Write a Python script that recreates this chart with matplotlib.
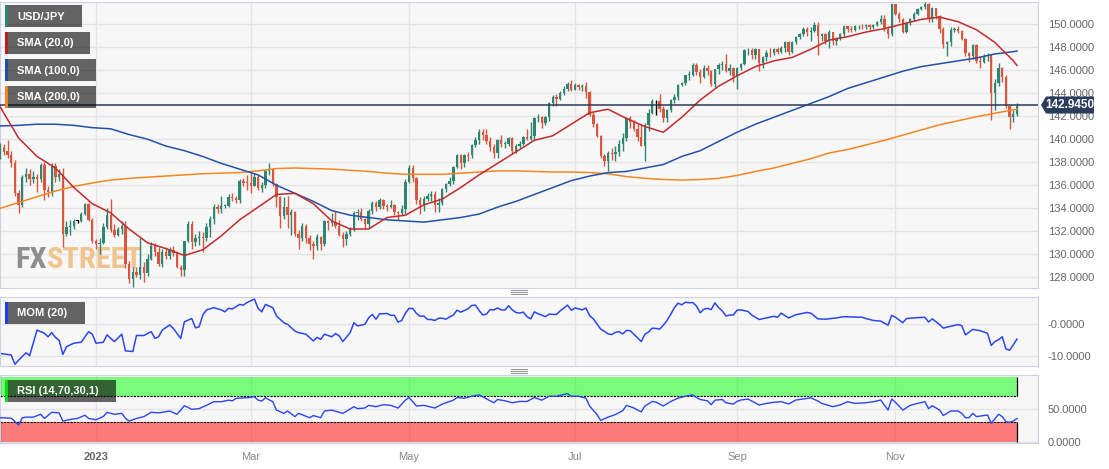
import numpy as np
import pandas as pd
import matplotlib
matplotlib.use("Agg")
import matplotlib.pyplot as plt
from matplotlib.patches import Rectangle, Polygon

plt.rcParams['font.family'] = ['Liberation Sans', 'DejaVu Sans']

# daily USD/JPY candles, 25 Nov 2022 .. 18 Dec 2023 (weekdays)
dates = pd.bdate_range('2022-11-25', '2023-12-18')

opens = [
    138.5, 139.3, 139.0, 138.6, 137.9, 135.3, 134.3, 136.7, 137.0, 136.5,
    136.7, 136.5, 137.8, 135.6, 135.4, 137.7, 136.7, 137.0, 131.8, 132.4,
    132.5, 132.9, 132.9, 133.5, 134.4, 133.0, 131.2, 130.9, 131.0, 132.4,
    133.4, 132.1, 131.7, 132.2, 132.5, 129.2, 127.9, 128.5, 128.2, 128.9,
    128.4, 129.6, 130.7, 130.2, 129.2, 130.2, 129.9, 130.4, 130.1, 128.9,
    128.6, 131.2, 132.6, 131.1, 131.4, 131.5, 131.4, 132.4, 133.1, 134.1,
    133.9, 134.2, 134.2, 135.0, 134.9, 134.7, 136.4, 136.3, 136.2, 135.9,
    136.7, 135.8, 136.0, 137.2, 137.4, 136.1, 135.0, 133.3, 134.1, 133.4,
    133.7, 131.8, 131.4, 132.5, 131.4, 130.9, 130.7, 131.5, 130.9, 132.9,
    132.7, 132.8, 132.5, 131.7, 131.3, 131.8, 132.2, 133.6, 133.7, 133.1,
    132.6, 133.8, 134.5, 134.1, 134.7, 134.2, 134.1, 134.3, 133.7, 133.6,
    133.9, 136.3, 137.5, 136.6, 134.7, 134.3, 134.8, 135.1, 135.2, 134.3,
    134.5, 135.7, 136.1, 136.4, 137.6, 138.6, 137.9, 138.6, 138.6, 139.5,
    139.9, 140.6, 140.4, 139.8, 139.3, 138.8, 139.9, 139.6, 139.6, 140.1,
    139.0, 139.4, 139.6, 140.2, 140.0, 140.3, 141.8, 141.9, 141.4, 141.9,
    143.1, 143.7, 143.5, 144.0, 144.4, 144.8, 144.3, 144.7, 144.5, 144.6,
    144.1, 142.1, 141.3, 140.3, 138.5, 138.1, 138.8, 138.7, 138.9, 139.6,
    140.1, 141.8, 141.5, 140.9, 140.2, 139.4, 141.2, 142.3, 143.3, 143.3,
    142.6, 141.8, 142.5, 143.4, 143.7, 144.7, 144.9, 145.6, 145.6, 146.4,
    145.8, 145.4, 146.2, 145.9, 144.8, 146.1, 146.4, 146.5, 145.9, 146.2,
    145.5, 146.2, 146.5, 147.7, 147.7, 147.3, 147.8, 146.6, 147.1, 147.5,
    147.45, 147.8, 147.6, 147.9, 148.4, 147.6, 148.4, 148.9, 149.1, 149.6,
    149.3, 149.4, 149.9, 149.0, 149.1, 148.5, 149.3, 148.5, 148.7, 149.1,
    149.8, 149.6, 149.5, 149.8, 149.85, 149.8, 149.9, 149.7, 149.9, 150.2,
    150.4, 149.6, 149.1, 151.7, 150.9, 150.4, 149.3, 150.1, 150.4, 150.9,
    151.3, 151.5, 151.7, 150.4, 151.4, 150.7, 149.6, 148.3, 148.4, 149.5,
    149.6, 149.4, 148.7, 147.5, 147.2, 148.2, 146.8, 146.7, 147.2, 147.3,
    144.0, 144.9, 146.2, 145.4, 142.9, 141.9, 142.2,
]
highs = [
    139.7, 139.6, 139.9, 139.0, 138.2, 135.6, 136.9, 137.5, 137.4, 137.2,
    137.0, 137.9, 138.0, 135.9, 137.9, 137.9, 137.4, 137.5, 132.9, 133.0,
    133.1, 133.0, 133.7, 134.5, 134.5, 133.2, 131.3, 131.4, 132.7, 134.0,
    134.8, 132.6, 132.4, 132.9, 132.9, 129.4, 128.9, 128.9, 131.4, 129.3,
    130.0, 131.1, 131.0, 130.6, 130.5, 130.6, 130.6, 130.7, 130.3, 129.1,
    131.2, 132.9, 132.9, 131.8, 132.0, 131.9, 132.7, 133.3, 134.4, 134.4,
    135.1, 134.4, 135.2, 135.3, 135.1, 136.5, 136.6, 136.9, 137.1, 137.1,
    136.9, 136.3, 137.3, 137.9, 137.5, 136.2, 135.1, 135.0, 135.1, 133.9,
    133.8, 132.1, 132.7, 132.6, 131.7, 131.2, 131.8, 131.6, 133.0, 133.0,
    133.6, 133.8, 133.0, 131.9, 132.0, 132.4, 133.8, 133.9, 134.0, 133.2,
    133.9, 134.6, 134.6, 134.9, 134.8, 134.4, 134.7, 134.4, 133.8, 134.3,
    136.5, 137.8, 137.8, 136.7, 135.0, 135.1, 135.3, 135.5, 135.5, 134.9,
    135.8, 136.2, 136.7, 137.7, 138.7, 138.7, 138.7, 138.9, 139.6, 140.2,
    140.9, 140.9, 140.9, 140.2, 139.6, 140.0, 140.4, 139.8, 140.2, 140.2,
    139.6, 139.8, 140.3, 140.9, 141.5, 141.9, 142.2, 142.0, 142.0, 143.2,
    143.8, 143.9, 144.2, 144.6, 145.0, 145.1, 144.9, 144.8, 144.8, 145.0,
    144.2, 142.4, 141.4, 140.4, 138.7, 139.0, 139.2, 139.4, 139.9, 140.5,
    141.9, 142.0, 141.7, 141.3, 141.3, 141.4, 142.6, 143.5, 143.4, 143.9,
    142.9, 142.6, 143.5, 143.9, 144.8, 145.0, 145.6, 145.9, 146.6, 146.6,
    146.1, 146.4, 146.4, 146.0, 146.1, 146.6, 146.8, 147.4, 146.5, 146.3,
    146.3, 146.6, 147.8, 147.9, 147.9, 147.9, 147.8, 147.2, 147.7, 147.9,
    147.9, 148.0, 148.1, 148.5, 148.5, 148.5, 149.0, 149.2, 149.7, 149.7,
    149.7, 150.2, 150.2, 149.2, 149.2, 149.5, 149.3, 148.9, 149.2, 149.8,
    149.8, 149.8, 149.9, 149.9, 150.0, 150.0, 150.0, 150.0, 150.3, 150.8,
    150.8, 149.8, 151.7, 151.7, 151.0, 150.5, 150.2, 150.5, 151.0, 151.4,
    151.6, 151.9, 151.8, 151.5, 151.4, 150.8, 149.7, 148.5, 149.7, 149.7,
    149.8, 149.5, 148.8, 147.6, 148.3, 148.3, 147.2, 147.4, 147.5, 147.4,
    145.2, 146.6, 146.3, 145.6, 143.0, 142.5, 143.1,
]
lows = [
    138.3, 138.6, 138.4, 137.6, 135.1, 133.6, 134.1, 136.3, 136.0, 136.2,
    135.4, 136.3, 134.7, 135.0, 135.1, 136.3, 136.4, 130.6, 131.6, 131.7,
    132.2, 132.7, 132.8, 133.4, 132.9, 131.0, 130.5, 130.0, 130.9, 132.2,
    131.9, 131.5, 131.6, 131.8, 128.8, 127.5, 127.2, 128.0, 127.9, 127.6,
    128.1, 129.5, 129.9, 129.0, 128.9, 129.6, 129.6, 129.9, 128.8, 128.1,
    128.1, 131.1, 130.5, 130.7, 130.8, 130.2, 131.2, 131.5, 132.6, 133.6,
    133.6, 134.0, 134.1, 134.6, 134.5, 134.5, 135.9, 135.6, 135.3, 135.9,
    135.6, 135.4, 135.8, 136.9, 135.9, 134.1, 132.3, 133.1, 132.3, 131.7,
    131.6, 130.5, 131.2, 131.0, 130.4, 129.6, 130.4, 130.4, 130.7, 132.1,
    132.5, 132.3, 131.6, 130.6, 130.8, 131.6, 132.0, 133.0, 132.9, 132.3,
    132.3, 133.5, 133.8, 133.9, 133.9, 133.8, 134.0, 133.4, 133.0, 133.4,
    133.5, 136.2, 136.3, 134.4, 133.5, 133.8, 134.6, 134.6, 133.7, 133.7,
    134.3, 135.4, 135.9, 136.1, 137.5, 137.4, 137.6, 138.1, 138.4, 139.3,
    139.6, 139.9, 139.6, 139.0, 138.4, 138.4, 139.3, 139.2, 139.4, 138.8,
    138.8, 139.2, 139.5, 139.9, 139.9, 139.9, 141.5, 141.0, 141.2, 141.6,
    142.9, 142.9, 143.4, 143.8, 144.2, 144.2, 144.3, 144.3, 144.2, 143.6,
    142.0, 141.1, 140.2, 138.4, 137.7, 137.2, 138.2, 138.1, 138.5, 139.0,
    139.8, 141.0, 140.7, 139.8, 139.4, 138.1, 140.7, 142.2, 142.1, 142.4,
    141.5, 141.5, 142.4, 143.1, 143.4, 144.6, 144.7, 145.1, 145.5, 145.6,
    144.9, 145.3, 145.6, 144.6, 144.5, 145.7, 146.0, 145.8, 145.6, 145.0,
    144.4, 146.0, 146.4, 147.3, 147.0, 147.0, 145.9, 146.2, 146.8, 147.1,
    147.3, 147.4, 147.5, 147.6, 147.3, 147.5, 148.3, 148.7, 149.0, 149.0,
    148.5, 149.3, 147.3, 148.5, 148.3, 147.9, 148.2, 148.2, 148.6, 149.0,
    149.3, 149.3, 149.4, 149.6, 149.6, 149.6, 149.5, 149.6, 149.8, 150.0,
    149.4, 148.8, 149.0, 150.8, 150.2, 149.2, 149.2, 149.9, 150.3, 150.8,
    151.2, 151.3, 150.2, 150.2, 150.4, 149.2, 147.9, 147.2, 148.1, 149.3,
    149.2, 148.6, 147.2, 146.7, 147.0, 146.6, 146.2, 146.6, 146.8, 141.7,
    142.5, 144.6, 145.0, 142.7, 140.9, 141.5, 142.0,
]
closes = [
    139.5, 138.9, 138.6, 137.9, 135.3, 134.3, 136.7, 137.0, 136.5, 136.7,
    136.5, 137.8, 135.6, 135.4, 137.7, 136.7, 137.0, 131.8, 132.4, 132.5,
    132.9, 132.9, 133.5, 134.4, 133.0, 131.2, 130.9, 131.0, 132.4, 133.4,
    132.1, 131.7, 132.2, 132.5, 129.2, 127.9, 128.5, 128.2, 128.9, 128.4,
    129.6, 130.7, 130.2, 129.2, 130.2, 129.9, 130.4, 130.1, 128.9, 128.6,
    131.2, 132.6, 131.1, 131.4, 131.5, 131.4, 132.4, 133.1, 134.1, 133.9,
    134.2, 134.25, 135.0, 134.9, 134.7, 136.4, 136.2, 136.2, 135.9, 136.7,
    135.8, 136.0, 137.2, 137.4, 136.1, 135.0, 133.3, 134.1, 133.4, 133.7,
    131.8, 131.4, 132.5, 131.4, 130.9, 130.7, 131.5, 130.9, 132.9, 132.7,
    132.8, 132.5, 131.7, 131.3, 131.8, 132.2, 133.6, 133.7, 133.1, 132.6,
    133.8, 134.5, 134.1, 134.7, 134.2, 134.1, 134.3, 133.7, 133.6, 133.9,
    136.3, 137.5, 136.6, 134.7, 134.3, 134.8, 135.1, 135.2, 134.3, 134.5,
    135.7, 136.1, 136.4, 137.6, 138.6, 137.9, 138.6, 138.55, 139.5, 139.9,
    140.6, 140.4, 139.8, 139.3, 138.8, 139.9, 139.6, 139.65, 140.1, 139.0,
    139.4, 139.6, 140.2, 140.0, 140.3, 141.8, 141.9, 141.4, 141.9, 143.1,
    143.7, 143.5, 144.0, 144.4, 144.8, 144.3, 144.7, 144.5, 144.6, 144.1,
    142.1, 141.3, 140.3, 138.5, 138.1, 138.8, 138.7, 138.9, 139.6, 140.1,
    141.8, 141.5, 140.9, 140.2, 139.4, 141.2, 142.3, 143.3, 143.3, 142.6,
    141.8, 142.5, 143.4, 143.7, 144.7, 144.9, 145.6, 145.65, 146.4, 145.8,
    145.4, 146.2, 145.9, 144.8, 146.1, 146.4, 146.5, 145.9, 146.2, 145.5,
    146.2, 146.5, 147.7, 147.75, 147.3, 147.8, 146.6, 147.1, 147.5, 147.45,
    147.8, 147.6, 147.9, 148.4, 147.6, 148.4, 148.9, 149.1, 149.6, 149.3,
    149.4, 149.9, 149.0, 149.1, 148.5, 149.3, 148.5, 148.7, 149.1, 149.8,
    149.6, 149.5, 149.8, 149.85, 149.8, 149.9, 149.7, 149.9, 150.2, 150.4,
    149.6, 149.1, 151.7, 150.9, 150.4, 149.3, 150.1, 150.4, 150.9, 151.3,
    151.5, 151.7, 150.4, 151.4, 150.7, 149.6, 148.3, 148.4, 149.5, 149.6,
    149.4, 148.7, 147.5, 147.2, 148.2, 146.8, 146.7, 147.2, 147.3, 144.0,
    144.9, 146.2, 145.4, 142.9, 141.9, 142.2, 142.9,
]

# moving averages read every 5th session (plus the last one)
sma_idx = list(range(0, 276, 5)) + [276]
sma20 = [142.8, 140.1, 138.5, 137.5, 135.8, 134.4, 133.6, 132.2, 131.0, 130.5,
         129.9, 130.4, 131.6, 133.0, 134.1, 135.2, 135.3, 134.4, 132.9, 132.2,
         132.2, 133.2, 133.4, 134.3, 134.8, 135.8, 136.9, 137.9, 138.9, 139.9,
         140.3, 141.3, 142.3, 142.6, 141.8, 141.1, 140.6, 141.9, 143.4, 144.6,
         145.5, 146.3, 146.8, 147.1, 147.8, 148.6, 148.9, 149.3, 149.6, 150.0,
         150.4, 150.6, 150.2, 149.5, 148.4, 146.8, 146.4]
sma100 = [141.15, 141.2, 141.3, 141.3, 141.2, 141.0, 140.9, 140.4, 140.0, 139.4,
          139.0, 138.5, 137.9, 137.4, 136.9, 136.0, 135.3, 134.6, 133.8, 133.4,
          133.2, 133.0, 132.9, 132.8, 133.0, 133.2, 133.5, 134.1, 134.6, 135.2,
          135.8, 136.4, 136.8, 137.1, 137.2, 137.5, 137.8, 138.5, 139.0, 139.8,
          140.6, 141.3, 141.9, 142.5, 143.1, 143.7, 144.4, 144.9, 145.4, 145.9,
          146.3, 146.55, 146.8, 147.05, 147.4, 147.6, 147.65]
sma200 = [134.0, 134.5, 135.0, 135.5, 135.9, 136.2, 136.45, 136.6, 136.7, 136.8,
          136.9, 137.0, 137.05, 137.1, 137.25, 137.45, 137.5, 137.45, 137.4, 137.3,
          137.2, 137.05, 136.95, 136.95, 136.95, 137.05, 137.15, 137.25, 137.25, 137.2,
          137.15, 137.15, 137.1, 137.0, 136.75, 136.6, 136.5, 136.45, 136.5, 136.6,
          136.85, 137.2, 137.5, 137.9, 138.3, 138.8, 139.1, 139.5, 139.9, 140.35,
          140.8, 141.25, 141.6, 141.95, 142.25, 142.55, 142.6]

mom_idx = [0, 3, 4, 5, 7, 8, 10, 12, 13, 14, 15, 16, 17, 18, 20, 22, 24, 25, 26, 28,
           29, 30, 31, 33, 34, 36, 37, 39, 41, 42, 43, 44, 46, 47, 49, 50, 52, 53, 54, 55,
           56, 58, 60, 61, 62, 63, 65, 66, 67, 69, 70, 71, 72, 74, 75, 77, 78, 80, 81, 83,
           85, 86, 87, 88, 90, 91, 92, 93, 95, 96, 97, 99,
           100, 101, 102, 103, 104, 105, 106, 107, 108, 109, 110, 111, 112, 113, 114, 115,
           116, 117, 118, 119, 120, 121, 122, 123, 124, 125, 126, 127, 128, 129, 130, 131,
           132, 133, 134, 135, 136, 137, 138, 139, 140, 141, 142, 143, 144, 145, 146, 147,
           148, 149, 150, 151, 152, 153, 154, 155, 156, 157, 158, 159, 160, 161, 162, 163,
           164, 165, 166, 167, 168, 169, 170, 171, 172, 173, 174, 175, 176, 177, 178, 179,
           180, 181, 182, 183, 184, 185, 186, 187, 188, 189, 190, 191, 192, 193, 194, 195,
           196, 197, 198, 199, 200,
           201, 203, 204, 206, 208, 210, 211, 212, 214, 216, 219, 220, 222, 224, 227, 229,
           231, 234, 235, 237, 239, 241, 242, 243, 245, 246, 248, 251, 252, 253, 255, 256,
           258, 260, 261, 262, 264, 266, 268, 269, 270, 271, 272, 273, 274, 275, 276]
mom_vals = [-9.1, -9.6, -12.5, -11.2, -8.9, -9.8, -1.8, -2.8, -3.9, -2.6, -4.1, -5.0, -9.4, -7.0, -5.9, -5.6, -2.3, -3.1, -5.9, -5.6,
            -3.3, -4.4, -5.4, -3.1, -8.3, -8.5, -3.5, -3.5, -2.3, -4.4, -3.9, -1.8, -0.2, -1.3, -4.4, 0.8, 1.8, -1.1, -0.8, 2.9,
            4.5, 5.2, 4.5, 3.9, 5.0, 4.8, 6.2, 6.0, 6.8, 7.9, 5.0, 3.9, 6.2, 5.2, 2.6, 0.5, 0.0, -2.1, -2.6, -3.1,
            -5.2, -4.1, -4.7, -3.1, -3.9, -2.9, -3.6, -5.4, -2.6, 0.5, -0.5, 0.0,
            2.0, 3.1, 1.6, 3.3, 3.3, 3.4, 2.8, 2.8, 0.7, 1.2, 3.5, 5.0, 4.9, 3.4, 2.5, 2.6,
            1.5, 1.5, 1.2, 1.9, 1.9, 1.6, 2.3, 2.9, 4.4, 3.8, 4.3, 4.85, 5.9, 6.0, 4.3, 2.9,
            3.2, 4.6, 4.5, 5.1, 4.5, 4.45, 5.8, 4.5, 3.7, 3.5, 3.8, 2.4, 1.7, 3.9, 3.3, 2.85,
            2.4, 3.2, 3.1, 3.1, 4.2, 5.1, 6.0, 4.4, 5.1, 4.85, 4.5, 5.1, 2.7, 1.7, 0.1, -1.5,
            -2.2, -3.0, -3.2, -2.5, -2.3, -3.0, -1.9, -2.0, -3.1, -4.2, -5.4, -3.1, -2.4, -1.2, -1.3, -1.5,
            -0.3, 1.2, 3.1, 5.2, 6.6, 6.1, 6.9, 6.75, 6.8, 5.7, 3.6, 4.7, 5.0, 4.6, 6.7, 5.2,
            4.2, 2.6, 2.9, 2.9, 4.4,
            4.5, 4.0, 2.9, 1.5, 2.0, 2.5, 2.2, 3.5, 2.0, 3.0, 3.7, 3.5, 1.7, 1.6, 2.0, 2.4,
            2.3, 2.2, 1.8, 1.2, 1.0, -0.3, 2.8, 2.2, 0.5, 1.8, 2.0, 2.2, 0.7, 1.7, -0.1, -1.2,
            -0.6, -0.1, -0.4, -3.3, -1.6, -2.0, -2.8, -6.6, -5.4, -4.8, -3.9, -7.7, -8.1, -6.4, -4.6]

rsi_idx = [0, 3, 5, 6, 7, 9, 11, 12, 14, 16, 17, 19, 21, 23, 24, 26, 28, 29, 31, 33,
           34, 35, 37, 39, 41, 43, 44, 46, 48, 50, 52, 54, 56, 58, 60, 62, 63, 64, 66, 67,
           69, 70, 71, 72, 74, 75, 77, 78, 80, 81, 84, 85, 87, 88, 90, 93, 94, 96, 97, 99,
           100, 102, 104, 106, 108, 110, 111, 113, 115, 118, 120, 123, 124, 126, 128, 130, 132, 134, 135, 137,
           139, 141, 143, 145, 147, 149, 151, 154, 155, 157, 159, 160, 162, 163, 165, 167, 169, 170, 172, 174,
           175, 177, 178, 180, 182, 184, 186, 188, 189, 190, 192, 193, 194, 196, 197, 199, 200,
           201, 203, 206, 208, 210, 212, 214, 216, 219, 220, 222, 223, 226, 228, 230, 232, 235, 237, 239, 241,
           242, 243, 245, 247, 249, 251, 252, 253, 255, 256, 258, 260, 261, 262, 263, 264, 265, 268, 269, 271,
           272, 273, 274, 275, 276]
rsi_vals = [37.2, 36.4, 26, 37, 38, 38, 42.4, 36, 45.4, 44.6, 32, 34.5, 36, 41, 36, 34, 39, 45.4, 42.4, 43.8,
            36.2, 32, 36, 38.8, 45.4, 44.6, 45.4, 47.4, 42.4, 55.5, 50, 51, 56.1, 61.6, 61.6, 64, 63, 66.6, 67.6, 67.6,
            69.2, 64, 62.6, 67.6, 61.6, 48.8, 43.8, 47.4, 38.8, 43.8, 37.2, 40.4, 37.2, 47.4, 48.8, 43.8, 47, 54, 51, 52,
            56, 54, 57, 56, 52, 64, 68, 55, 56, 52, 58, 64, 68, 67, 70, 72, 66, 60, 65, 63,
            60, 62, 62, 68, 64, 70, 70, 74, 70, 70, 67, 55, 42, 33, 38, 42, 48, 56, 52, 46,
            55, 62, 61, 55, 62, 67, 70, 72, 68, 65, 63, 57, 64, 65, 60, 58, 62,
            64.2, 65.7, 56.6, 59, 60.7, 61.6, 58.2, 64.2, 66.6, 67.6, 62.6, 59, 54, 56.6, 61.6, 59, 60, 61.6, 64.2, 48.8,
            65.7, 60.7, 48.8, 56, 59, 61.6, 51, 55.5, 48.8, 40.5, 47.4, 47.4, 43.8, 37.2, 37.2, 43.8, 38.8, 41.3, 28.6, 42.4,
            38.8, 31, 30, 32, 36]
rsi_upper, rsi_lower = 70, 30

last_price = 142.945
price_ticks = list(range(128, 151, 2))
month_starts = ['2023-01-02', '2023-03-01', '2023-05-01', '2023-07-03', '2023-09-01', '2023-11-01']
month_labels = ['2023', 'Mar', 'May', 'Jul', 'Sep', 'Nov']

UP = '#2e8570'
DOWN = '#d9553f'
BG = '#f7f7f7'
GRID = '#e4e4e4'
EDGE = '#c9d1e3'
LINE = '#2a46f2'

W, H = 1109, 469
fig = plt.figure(figsize=(W / 100, H / 100), dpi=100)
fig.patch.set_facecolor('white')


def panel(top, bottom):
    a = fig.add_axes([0, 1 - bottom / H, 1038 / W, (bottom - top) / H])
    a.set_facecolor(BG)
    for s in a.spines.values():
        s.set_color(EDGE)
    a.set_axisbelow(True)
    a.yaxis.tick_right()
    a.tick_params(axis='y', length=0, pad=7, labelsize=8, labelcolor='#666666')
    a.tick_params(axis='x', length=0, labelbottom=False)
    a.grid(True, color=GRID, lw=1)
    a.set_xlim(-0.05, 281.7)
    return a


x = np.arange(len(closes))
tick_pos = dates.get_indexer(pd.to_datetime(month_starts))

ax = panel(2, 288)
axm = panel(297.3, 366)
axr = panel(375.3, 443.3)
for a in (ax, axm, axr):
    a.set_xticks(tick_pos)

# candles
o, h, l, c = map(np.array, (opens, highs, lows, closes))
cols = np.where(c > o, UP, np.where(c < o, DOWN, 'black'))
ax.vlines(x, l, h, colors=cols, lw=1, zorder=3)
ax.bar(x, np.maximum(np.abs(c - o), 0.05), bottom=np.minimum(o, c), width=0.64,
       color=cols, lw=0, zorder=3)

ax.plot(sma_idx, sma200, color='#f7861e', lw=1.1, zorder=4)
ax.plot(sma_idx, sma100, color='#2152a8', lw=1.1, zorder=4)
ax.plot(sma_idx, sma20, color='#c42a2c', lw=1.1, zorder=4)
ax.axhline(last_price, color='#2b3b59', lw=1.1, zorder=5)
ax.set_ylim(127.08, 151.91)
ax.set_yticks(price_ticks)
ax.set_yticklabels([f'{v:.4f}' for v in price_ticks])

# watermark, sized to its place (starts at x = 15 px)
wm_fam = ['Roboto Condensed', 'Liberation Sans Narrow', 'Liberation Sans']
wm1 = ax.text(15 / 1038, 0.07, 'FX', transform=ax.transAxes, fontsize=24, fontweight='bold',
              color='#8e8e8e', family=wm_fam, zorder=1)
wm2 = ax.text(0.1, 0.07, 'STREET', transform=ax.transAxes, fontsize=24, fontweight='bold',
              color='#f1c38d', family=wm_fam, zorder=1)
fig.canvas.draw()
rend = fig.canvas.get_renderer()
axbb = ax.get_window_extent(rend)
w_total = wm1.get_window_extent(rend).width + wm2.get_window_extent(rend).width
size = 24 * 128 / w_total
wm1.set_fontsize(size)
wm2.set_fontsize(size)
fig.canvas.draw()
b1 = wm1.get_window_extent(rend)
wm2.set_x((b1.x1 - axbb.x0) / axbb.width)

# momentum
axm.plot(mom_idx, mom_vals, color=LINE, lw=1.1)
axm.set_ylim(-13.03, 8.44)
axm.set_yticks([-10, 0])
axm.set_yticklabels(['-10.0000', '-0.0000'])

# rsi with overbought / oversold zones
span = x[-1] - x[0]
axr.add_patch(Rectangle((x[0], rsi_upper), span, 100 - rsi_upper,
                        facecolor=(0, 1, 0, 0.5), lw=0, zorder=2))
axr.add_patch(Rectangle((x[0], 0), span, rsi_lower,
                        facecolor=(1, 0, 0, 0.5), lw=0, zorder=2))
axr.hlines([rsi_upper, rsi_lower], x[0], x[-1], colors='black', lw=0.8,
           linestyles=(0, (2, 1)), zorder=2.5)
axr.vlines([x[0], x[-1]], rsi_upper, 100, colors='black', lw=0.9, zorder=2.5)
axr.vlines([x[0], x[-1]], 0, rsi_lower, colors='black', lw=0.9, zorder=2.5)
axr.plot(rsi_idx, rsi_vals, color=LINE, lw=1.0, zorder=3)
axr.set_ylim(-2, 102)
axr.set_yticks([0, 50])
axr.set_yticklabels(['0.0000', '50.0000'])
axr.tick_params(axis='x', labelbottom=True, pad=6, labelsize=8, labelcolor='#888888')
axr.set_xticklabels(month_labels)
axr.get_xticklabels()[0].set_fontweight('bold')
axr.get_xticklabels()[0].set_color('#666666')

# overlay in pixel coordinates for tags
ov = fig.add_axes([0, 0, 1, 1])
ov.set_xlim(0, W)
ov.set_ylim(H, 0)
ov.axis('off')


def tag(y0, w, color, text):
    ov.add_patch(Rectangle((5, y0), w, 22, facecolor=(0, 0, 0, 0.6), lw=0))
    ov.add_patch(Rectangle((5, y0), 3, 22, facecolor=color, lw=0))
    ov.text(17, y0 + 11.5, text, color='white', fontsize=8, fontweight='bold',
            va='center', ha='left')


tag(5, 77, '#2e8570', 'USD/JPY')
tag(32, 85, '#b81f24', 'SMA (20,0)')
tag(59, 91, '#1d4fa3', 'SMA (100,0)')
tag(86, 91, '#f5821f', 'SMA (200,0)')
tag(302, 80, '#1f3cf0', 'MOM (20)')
tag(380, 111, '#00e000', 'RSI (14,70,30,1)')

ov.add_patch(Polygon([(1041, 105), (1046, 96.5), (1094, 96.5), (1094, 113.5), (1046, 113.5)],
                     closed=True, facecolor='#2b3d5c', lw=0))
ov.text(1070, 105.5, f'{last_price:.4f}', color='white', fontsize=8.5, fontweight='bold',
        va='center', ha='center')

for yy in (290.5, 292.5, 294.5, 369.5, 371.5, 373.5):
    ov.plot([511, 527], [yy, yy], color='#9a9a9a', lw=0.8)

fig.savefig('out.png', dpi=100)
